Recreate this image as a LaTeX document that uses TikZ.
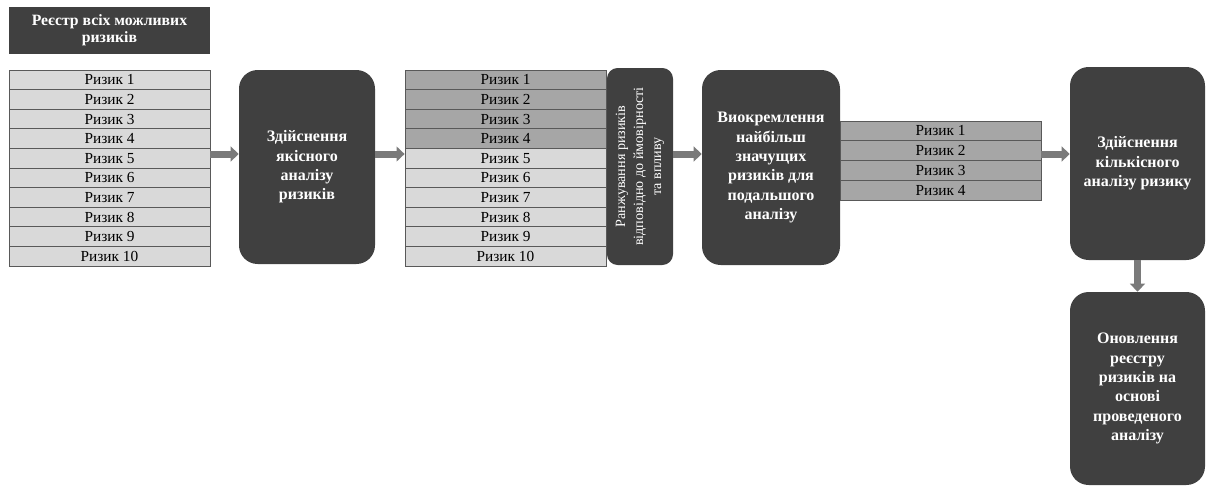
\documentclass[tikz,border=0pt]{standalone}
\usepackage{fontspec}
\setmainfont{Liberation Serif}
\usetikzlibrary{arrows.meta,positioning,calc}
\definecolor{BoxDark}{RGB}{64,64,64}
\definecolor{RowLight}{RGB}{217,217,217}
\definecolor{RowMid}{RGB}{166,166,166}
\definecolor{RowLine}{RGB}{89,89,89}
\definecolor{FlowGray}{RGB}{122,122,122}

\begin{document}
\begin{tikzpicture}[x=0.75pt,y=-0.75pt,>=Latex,
  row/.style={draw=RowLine,line width=0.6pt,minimum width=150.75pt,
    minimum height=14.7pt,inner sep=0pt,font=\fontsize{11.5}{12}\selectfont},
  stage/.style={fill=BoxDark,rounded corners=14pt,text=white,align=center,
    inner sep=2pt,font=\fontsize{12}{14.5}\selectfont\bfseries},
  header/.style={fill=BoxDark,text=white,align=center,minimum width=150.75pt,
    minimum height=35.25pt,font=\fontsize{11.8}{12.9}\selectfont\bfseries},
  flow/.style={FlowGray,line width=5.25pt,-{Triangle[width=11pt,length=6pt]}}]
      \useasboundingbox (0,0) rectangle (1206,486);
      \coordinate (mid) at (0,154);
      \node[header] (title) at (109.5,30.5) {Реєстр всіх можливих\\ризиків};
      \foreach \i in {1,...,10}
        \node[row,fill=RowLight] (ra\i) at (109.5,{70+19.6*(\i-0.5)}) {Ризик \i};
      \node[stage,minimum width=102pt,minimum height=145.5pt] (qual) at (307,167)
        {Здійснення\\якісного\\аналізу\\ризиків};
      \foreach \i in {1,...,4}
        \node[row,fill=RowMid] (rb\i) at (505.5,{70+19.6*(\i-0.5)}) {Ризик \i};
      \foreach \i in {5,...,10}
        \node[row,fill=RowLight] (rb\i) at (505.5,{70+19.6*(\i-0.5)}) {Ризик \i};
      \node[stage,rotate=90,minimum width=147.75pt,minimum height=49.5pt,
        rounded corners=8pt,font=\fontsize{10.6}{13.5}\selectfont] (rank) at (640,166.5)
        {Ранжування ризиків\\відповідно до ймовірності\\та впливу};
      \node[stage,minimum width=103.5pt,minimum height=146.25pt] (pick) at (771,167.5)
        {Виокремлення\\найбільш\\значущих\\ризиків для\\подальшого\\аналізу};
      \foreach \i in {1,...,4}
        \node[row,fill=RowMid] (rc\i) at (940.5,{121+19.75*(\i-0.5)}) {Ризик \i};
      \node[stage,minimum width=101.25pt,minimum height=144.75pt] (quant) at (1137.5,163.5)
        {Здійснення\\кількісного\\аналізу ризику};
      \node[stage,minimum width=101.25pt,minimum height=144.75pt] (update) at (1137.5,388.5)
        {Оновлення\\реєстру\\ризиків на\\основі\\проведеного\\аналізу};
      \draw[flow] (ra5.east |- mid) -- (qual.west |- mid);
      \draw[flow] (qual.east |- mid) -- (rb5.west |- mid);
      \draw[flow] (rank.south |- mid) -- (pick.west |- mid);
      \draw[flow] (rc2.east |- mid) -- (quant.west |- mid);
      \draw[flow] (quant.south) -- (update.north);
    \end{tikzpicture}
\end{document}
